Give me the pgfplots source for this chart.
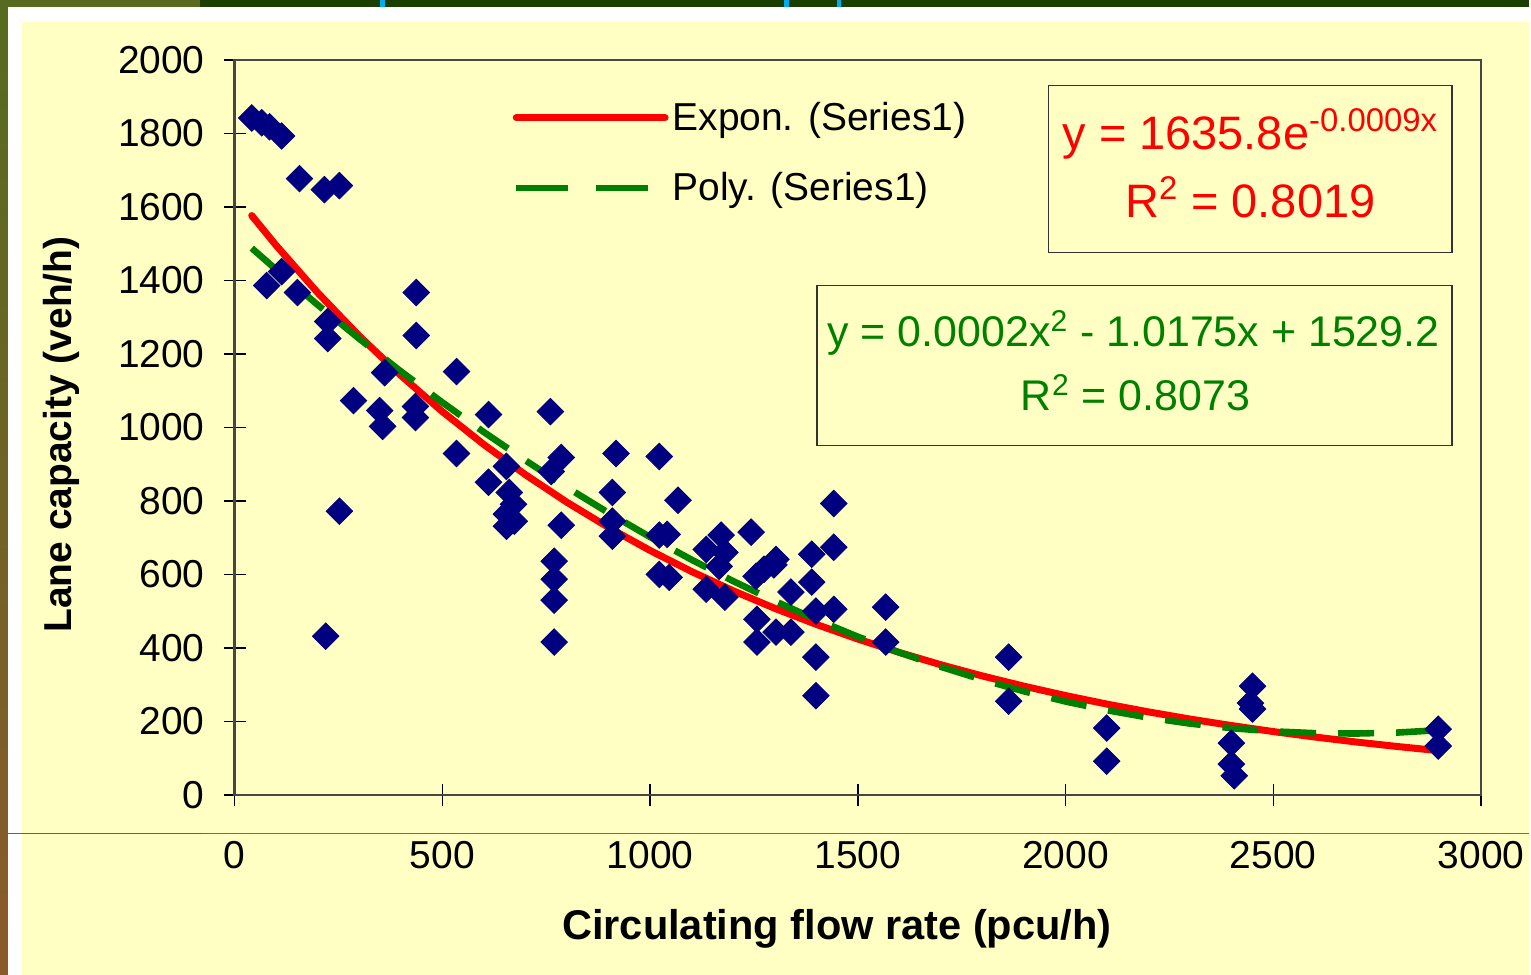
\documentclass[border=0pt]{standalone}
\usepackage{pgfplots}
\pgfplotsset{compat=1.18}
\usepackage{fontspec}
\setmainfont{Liberation Sans}
\definecolor{bgyellow}{HTML}{FFFFC4}
\definecolor{navyblue}{HTML}{000080}
\definecolor{xlgreen}{HTML}{008000}
\definecolor{xlred}{HTML}{FF0000}
\definecolor{darkband}{HTML}{1A3E00}
\definecolor{oliveband}{HTML}{566B1F}
\definecolor{brownband}{HTML}{8B5A2B}

\pgfplotstableread{
x y
41 1842
65 1829
84 1818
113 1793
156 1677
216 1647
252 1658
77 1386
113 1424
151 1367
224 1288
224 1242
437 1367
437 1250
361 1149
286 1073
349 1046
356 1003
435 1057
435 1027
534 1152
534 929
252 772
219 432
611 1035
611 851
760 1043
654 894
661 823
671 791
654 764
673 745
654 731
786 918
762 880
786 734
769 636
769 587
769 530
769 416
918 929
909 823
909 745
909 704
1022 921
1067 802
1022 707
1041 709
1022 600
1046 592
1135 668
1171 707
1180 660
1166 622
1135 560
1180 538
1243 715
1255 595
1274 614
1303 641
1298 626
1257 478
1257 416
1303 443
1339 552
1339 443
1389 655
1442 793
1442 674
1389 579
1399 500
1442 505
1399 375
1399 270
1567 511
1567 416
1863 375
1863 255
2099 182
2099 92
2399 141
2399 84
2406 52
2450 296
2450 234
2445 250
2897 179
2897 133
}\flowdata

\begin{document}
\begin{tikzpicture}
\begin{scope}[x=0.5pt,y=0.5pt]
\fill[white] (0,0) rectangle (1531,976);
\fill[bgyellow] (22,0) rectangle (1531,954);
\fill[darkband] (0,969) rectangle (1531,976);
\fill[oliveband] (0,969) rectangle (200,976);
\fill[cyan] (381,969) rectangle (386,976);
\fill[cyan] (785,969) rectangle (790,976);
\fill[cyan] (838,969) rectangle (842,976);
\shade[top color=oliveband, bottom color=brownband] (0,0) rectangle (8,969);
\draw[brownband, line width=0.5pt] (8,141) -- (202,141);
\draw[darkband!70, line width=0.5pt] (202,141) -- (1531,141);
\end{scope}

\begin{axis}[
  at={(117.5pt,90pt)}, anchor=south west,
  scale only axis, width=624pt, height=368pt,
  xmin=0, xmax=3000, ymin=0, ymax=2000,
  xtick={0,500,...,3000}, ytick={0,200,...,2000},
  tick pos=left,
  tick align=center, major tick length=11pt,
  tick style={black, line width=0.7pt},
  axis line style={gray!55!black, line width=1.2pt},
  axis background/.style={fill=bgyellow},
  ticklabel style={font=\fontsize{19.5}{22}\selectfont},
  /pgf/number format/assume math mode=true,
  /pgf/number format/1000 sep={},
  xticklabel style={yshift=-14pt},
  yticklabel style={xshift=-6pt},
  legend image code/.code={\draw[#1] (0pt,0pt) -- (74.5pt,0pt);},
  legend style={at={(rel axis cs:0.2228,0.9485)}, anchor=north west,
    draw=none, fill=none, font=\fontsize{19.5}{22}\selectfont,
    row sep=15.5pt, inner sep=0pt},
  legend cell align=left,
]
\addplot[only marks, mark=square*, mark size=4.7pt,
  mark options={rotate=45, fill=navyblue, draw=navyblue}, forget plot]
  table[x=x, y=y] {\flowdata};
\addplot[xlred, line width=3.5pt, line join=round, line cap=round, forget plot]
  coordinates {
  (41,1576.5) (100,1495.0) (200,1366.3) (300,1248.7) (400,1141.3) (500,1043.0)
  (600,953.3) (700,871.2) (800,796.2) (900,727.7) (1000,665.1) (1100,607.8)
  (1200,555.5) (1300,507.7) (1400,464.0) (1500,424.1) (1600,387.6) (1700,354.2)
  (1800,323.7) (1900,295.9) (2000,270.4) (2100,247.1) (2200,225.9) (2300,206.4)
  (2400,188.7) (2500,172.4) (2600,157.6) (2700,144.0) (2800,131.6) (2897,120.6)
  };
\addplot[xlgreen, line width=3.3pt, dash pattern=on 18pt off 11pt, forget plot]
  coordinates {
  (41,1487.8) (100,1429.4) (200,1333.3) (300,1241.1) (400,1152.6) (500,1068.0)
  (600,987.1) (700,910.1) (800,836.8) (900,767.4) (1000,701.7) (1100,639.9)
  (1200,581.8) (1300,527.6) (1400,477.1) (1500,430.5) (1600,387.6) (1700,348.6)
  (1800,313.3) (1900,281.9) (2000,254.2) (2100,230.4) (2200,210.3) (2300,194.1)
  (2400,181.6) (2500,173.0) (2600,168.1) (2700,167.1) (2800,169.8) (2897,176.1)
  };
\addlegendimage{xlred, line width=3.5pt, line cap=round}
\addlegendentry{Expon. (Series1)}
\addlegendimage{xlgreen, line width=3.3pt, dash pattern=on 26pt off 14pt}
\addlegendentry{Poly. (Series1)}
\end{axis}

\begin{scope}[x=0.5pt,y=0.5pt]
\draw[gray!40!black, line width=0.6pt, fill=bgyellow] (1050,890) rectangle (1454,723);
\node[xlred, font=\fontsize{23.5}{26}\selectfont, anchor=base] at (1252,826)
  {y = 1635.8e\textsuperscript{-0.0009x}};
\node[xlred, font=\fontsize{23.5}{26}\selectfont, anchor=base] at (1252,758)
  {R\textsuperscript{2} = 0.8019};
\draw[gray!40!black, line width=0.6pt, fill=bgyellow] (818,690) rectangle (1454,530);
\node[xlgreen, font=\fontsize{21.5}{24}\selectfont, anchor=base] at (1135,629)
  {y = 0.0002x\textsuperscript{2} - 1.0175x + 1529.2};
\node[xlgreen, font=\fontsize{21.5}{24}\selectfont, anchor=base] at (1137,565)
  {R\textsuperscript{2} = 0.8073};
\node[font=\bfseries\fontsize{19.5}{22}\selectfont, rotate=90] at (62,541)
  {Lane capacity (veh/h)};
\node[font=\bfseries\fontsize{20.8}{24}\selectfont] at (838,46)
  {Circulating flow rate (pcu/h)};
\end{scope}
\end{tikzpicture}
\end{document}
